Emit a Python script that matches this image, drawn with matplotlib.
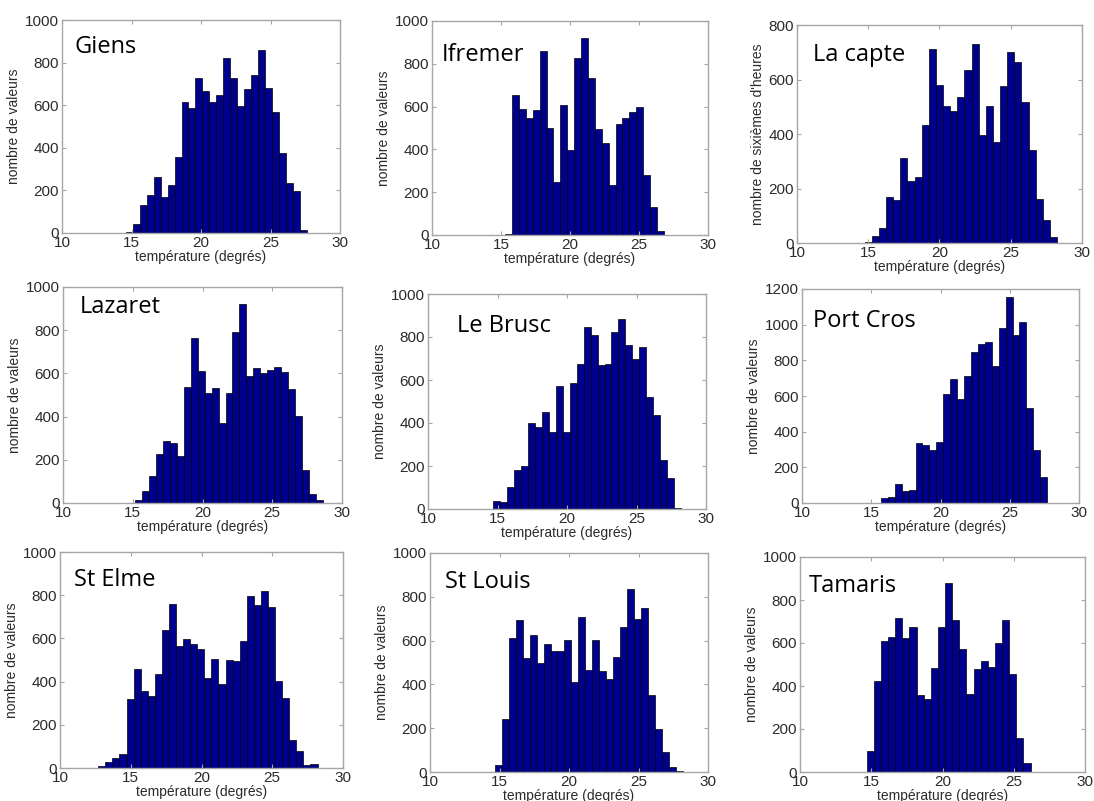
import matplotlib
matplotlib.use("Agg")
import matplotlib.pyplot as plt
import numpy as np

# ---------------- data ----------------
stations = ["Giens", "Ifremer", "La capte", "Lazaret", "Le Brusc", "Port Cros",
            "St Elme", "St Louis", "Tamaris"]

ylabels = ["nombre de valeurs", "nombre de valeurs", "nombre de sixièmes d'heures",
           "nombre de valeurs", "nombre de valeurs", "nombre de valeurs",
           "nombre de valeurs", "nombre de valeurs", "nombre de valeurs"]

y_max = [1000, 1000, 800, 1000, 1000, 1200, 1000, 1000, 1000]

bin_start = [14.6, 15.3, 14.75, 15.15, 14.7, 15.7, 12.7, 14.67, 14.68]
bin_width = 0.5

giens_counts = [3, 40, 130, 180, 265, 170, 225, 355, 615, 585, 727, 669, 617, 648,
                823, 730, 594, 675, 740, 859, 683, 568, 375, 235, 195, 15]
ifremer_counts = [3, 655, 590, 548, 585, 860, 500, 250, 607, 395, 825, 920, 735, 495,
                  430, 235, 520, 545, 575, 600, 280, 130, 20]
lacapte_counts = [4, 25, 55, 167, 156, 311, 226, 244, 433, 711, 580, 503, 486, 537,
                  635, 729, 397, 503, 372, 576, 700, 665, 516, 342, 161, 85, 22]
lazaret_counts = [12, 57, 126, 229, 288, 280, 218, 538, 762, 611, 511, 531, 372, 508,
                  792, 923, 588, 623, 600, 618, 628, 608, 526, 405, 154, 42, 12]
lebrusc_counts = [36, 31, 102, 183, 201, 399, 381, 449, 358, 570, 358, 585, 675, 848,
                  810, 670, 675, 825, 882, 763, 697, 755, 523, 438, 229, 144, 6]
portcros_counts = [28, 32, 106, 69, 75, 336, 326, 298, 340, 610, 694, 582, 713, 849,
                   892, 905, 771, 983, 1157, 940, 1017, 532, 298, 144]
stelme_counts = [8, 28, 48, 63, 321, 460, 356, 333, 437, 640, 761, 563, 599, 572, 552,
                 417, 506, 390, 502, 494, 590, 795, 756, 818, 745, 401, 324, 128, 77,
                 15, 17]
stlouis_counts = [31, 244, 614, 692, 519, 626, 496, 583, 553, 553, 603, 409, 707, 466,
                  602, 463, 423, 524, 660, 835, 698, 748, 351, 198, 92, 23, 6]
tamaris_counts = [98, 422, 608, 628, 716, 623, 674, 360, 341, 484, 674, 879, 709, 570,
                  365, 480, 515, 487, 600, 705, 455, 160, 42]

all_counts = [giens_counts, ifremer_counts, lacapte_counts, lazaret_counts,
              lebrusc_counts, portcros_counts, stelme_counts, stlouis_counts,
              tamaris_counts]

x_ticks = [10, 15, 20, 25, 30]

# ---------------- layout (pixels) ----------------
W, H = 1094, 801
# left, right, top, bottom
axes_px = [(62, 340, 20, 233), (432, 708, 21, 235), (797, 1082, 25, 243),
           (63, 342, 287, 503), (428, 706, 294, 509), (802, 1079, 289, 503),
           (60, 343, 552, 768), (430, 708, 553, 772), (800, 1085, 557, 772)]
title_px = [(75, 53), (442, 61), (813, 61), (80, 313), (457, 332), (813, 327),
            (74, 586), (445, 588), (809, 592)]

fig = plt.figure(figsize=(W / 100, H / 100), dpi=100)
fig.patch.set_facecolor("white")

frame_col = "#a6a6a6"
txt_col = "#2b2b2b"
bar_col = "#00008F"

for i, name in enumerate(stations):
    l, r, t, b = axes_px[i]
    ax = fig.add_axes([l / W, 1 - b / H, (r - l) / W, (b - t) / H])
    counts = np.array(all_counts[i])
    edges = bin_start[i] + bin_width * np.arange(len(counts))
    ax.bar(edges, counts, width=bin_width, align="edge", color=bar_col,
           edgecolor="black", linewidth=0.5)
    ax.set_xlim(10, 30)
    ax.set_ylim(0, y_max[i])
    ax.set_xticks(x_ticks)
    ax.set_yticks(np.arange(0, y_max[i] + 1, 200))
    for s in ax.spines.values():
        s.set_color(frame_col)
        s.set_linewidth(1.0)
    ax.tick_params(direction="in", length=3, width=0.8, color=frame_col,
                   top=True, right=True, labelsize=11, labelcolor=txt_col,
                   pad=2, labelfontfamily="Liberation Sans")
    ax.set_xlabel("température (degrés)", fontsize=10, color=txt_col,
                  family="Liberation Sans", labelpad=0)
    ax.set_ylabel(ylabels[i], fontsize=10, color=txt_col,
                  family="Liberation Sans", labelpad=3)
    tx, ty = title_px[i]
    fig.text(tx / W, 1 - ty / H, name, fontsize=17, family="Open Sans",
             color="black", ha="left", va="baseline")

fig.savefig("out.png", dpi=100, facecolor="white")
